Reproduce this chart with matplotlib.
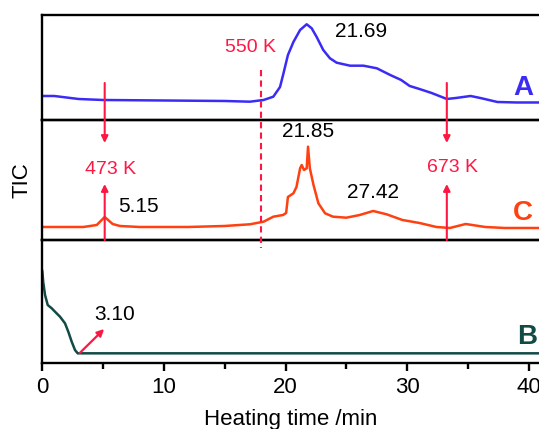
import matplotlib.pyplot as plt
from matplotlib.ticker import MultipleLocator

plt.rcParams['font.family'] = ['Liberation Sans', 'DejaVu Sans']

# curve A (blue)
time_a = [0, 1, 2, 3, 5, 10, 15, 17.08, 18.2, 19.0, 19.55, 19.8, 20.2, 20.65,
          21.2, 21.74, 22.15, 22.56, 23.1, 23.65, 24.2, 25.3, 26.4, 27.5,
          28.6, 29.5, 30.2, 31.0, 32.0, 33.25, 34, 35.2, 36, 37.4, 39, 40.8]
tic_a = [24, 24, 22.5, 21, 20, 19.5, 19, 18.3, 20, 23.3, 33, 45, 65, 78,
         90, 95.7, 91.7, 83, 70, 61.7, 57.3, 54.3, 54.3, 51.7,
         45, 40, 34, 31, 27, 21, 22, 24, 22, 18, 17.5, 17.5]

# curve C (orange-red)
time_c = [0, 3.4, 4.5, 5.15, 5.8, 6.4, 8, 12, 15, 17.08, 18.2, 19.0, 19.8,
          20.05, 20.2, 20.65, 20.9, 21.2, 21.33, 21.52, 21.74, 21.85, 22.0,
          22.3, 22.7, 23.25, 23.9, 25.0, 26.1, 27.2, 28.3, 29.6, 31.0, 32.4,
          33.5, 34.8, 36.4, 38, 40.8]
tic_c = [13, 13, 15, 23, 16, 14, 13, 13, 14, 15.7, 18.3, 23.3, 25,
         27, 43, 46.7, 53, 71.7, 75, 70, 71.7, 93.3, 71.7,
         55, 36.7, 26.7, 23.3, 22.3, 25, 29, 25.7, 20, 17, 13,
         12, 16, 13, 12, 12]

# curve B (dark teal)
time_b = [0, 0.03, 0.1, 0.25, 0.47, 0.8, 1.07, 1.48, 1.89, 2.16, 2.44, 2.71,
          2.93, 10, 20, 30, 40.8]
tic_b = [93, 91.3, 81, 68, 58, 54.7, 51.3, 46.3, 39.7, 31.3, 21.3, 13,
         9.7, 9.7, 9.7, 9.7, 9.7]

peak_a = [21.69]
peak_c = [5.15, 21.85, 27.42]
peak_b = [3.10]
temps = ['473 K', '550 K', '673 K']
temp_times = [5.15, 18.0, 33.25]

blue = '#3a2cf5'
orange = '#ff4010'
teal = '#124a45'
red = '#ff1744'

fig = plt.figure(figsize=(5.39, 4.29), dpi=100)
left = 42 / 539
width = 1 - left
xmax = 497 / 12.175

ax_a = fig.add_axes([left, 0.7203, width, 0.2448])
ax_c = fig.add_axes([left, 0.4406, width, 0.2797])
ax_b = fig.add_axes([left, 0.1538, width, 0.2867])

for ax, ylim in [(ax_a, 105), (ax_c, 120), (ax_b, 123)]:
    ax.set_xlim(0, xmax)
    ax.set_ylim(0, ylim)
    ax.set_yticks([])
    ax.spines['right'].set_visible(False)
    for s in ['left', 'top', 'bottom']:
        ax.spines[s].set_linewidth(1.7)
    ax.patch.set_alpha(0)

for ax in [ax_a, ax_c]:
    ax.set_xticks([])

ax_a.plot(time_a, tic_a, color=blue, lw=1.8)
ax_c.plot(time_c, tic_c, color=orange, lw=1.8)
ax_b.plot(time_b, tic_b, color=teal, lw=1.8)

ax_b.xaxis.set_major_locator(MultipleLocator(10))
ax_b.xaxis.set_minor_locator(MultipleLocator(5))
ax_b.tick_params(axis='x', which='major', direction='out', length=6, width=1.7,
                 labelsize=16, pad=4)
ax_b.tick_params(axis='x', which='minor', direction='out', length=4, width=1.7)
ax_b.set_xlabel('Heating time /min', fontsize=16, labelpad=8)
fig.text(22 / 539, 1 - 180 / 429, 'TIC', rotation=90, fontsize=16,
         ha='center', va='center')

# peak labels
ax_a.text(26.2, 88, '%.2f' % peak_a[0], fontsize=15, ha='center', va='center')
ax_c.text(7.9, 33, '%.2f' % peak_c[0], fontsize=15, ha='center', va='center')
ax_c.text(peak_c[1], 108, '%.2f' % peak_c[1], fontsize=15, ha='center', va='center')
ax_c.text(27.2, 47, '%.2f' % peak_c[2], fontsize=15, ha='center', va='center')
ax_b.text(6.0, 49, '%.2f' % peak_b[0], fontsize=15, ha='center', va='center')
ax_b.annotate('', xy=(5.1, 34), xytext=(peak_b[0], 10),
              arrowprops=dict(arrowstyle='-|>', color=red, lw=1.6,
                              mutation_scale=10, shrinkA=0, shrinkB=0))

ax_a.text(39.5, 32, 'A', fontsize=20, fontweight='bold', color=blue,
          ha='center', va='center')
ax_c.text(39.5, 27, 'C', fontsize=20, fontweight='bold', color=orange,
          ha='center', va='center')
ax_b.text(39.85, 26, 'B', fontsize=20, fontweight='bold', color=teal,
          ha='center', va='center')

# overlay in image-pixel y for the temperature markers
ov = fig.add_axes([left, 0, width, 1])
ov.set_xlim(0, xmax)
ov.set_ylim(429, 0)
ov.axis('off')
ap = dict(arrowstyle='-|>', color=red, lw=1.5, mutation_scale=10,
          shrinkA=0, shrinkB=0)
for t, lab, ty in [(temp_times[0], temps[0], 170), (temp_times[2], temps[2], 167)]:
    ov.annotate('', xy=(t, 143), xytext=(t, 83), arrowprops=ap)
    ov.annotate('', xy=(t, 184), xytext=(t, 240), arrowprops=ap)
    ov.text(t + 0.5, ty, lab, color=red, fontsize=14, ha='center', va='center')
ov.plot([temp_times[1], temp_times[1]], [70, 248], color=red, lw=1.5,
        linestyle=(0, (3, 2)))
ov.text(17.1, 48, temps[1], color=red, fontsize=14, ha='center', va='center')

fig.savefig('out.png', dpi=100)
